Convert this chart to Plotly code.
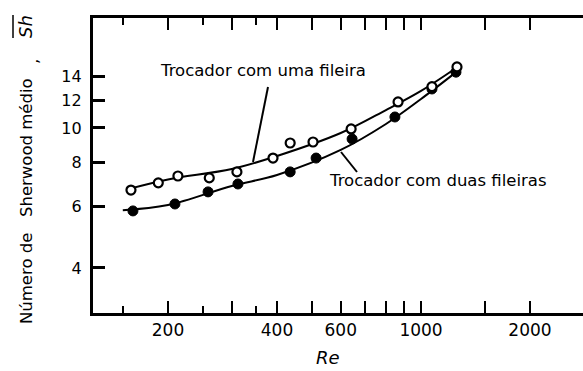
import plotly.graph_objects as go
import math

# Measured points: average Sherwood number vs Reynolds number
re_one_row = [158, 188, 213, 260, 310, 390, 435, 503, 641, 864, 1072, 1257]
sh_one_row = [6.66, 6.98, 7.30, 7.21, 7.50, 8.21, 9.06, 9.12, 9.93, 11.85, 13.1, 14.9]

re_two_rows = [160, 209, 258, 312, 435, 513, 645, 847, 1072, 1249]
sh_two_rows = [5.81, 6.08, 6.58, 6.93, 7.50, 8.21, 9.30, 10.74, 12.9, 14.4]

# Correlation curves through the data
re_curve_one = [155, 200, 300, 400, 600, 800, 1000, 1250]
sh_curve_one = [6.70, 7.14, 7.64, 8.32, 9.67, 11.24, 12.74, 14.8]

re_curve_two = [150, 200, 300, 400, 600, 800, 1000, 1250]
sh_curve_two = [5.84, 6.04, 6.84, 7.35, 8.66, 10.26, 12.08, 14.4]

# Axis ticks
x_major = [200, 300, 400, 500, 600, 700, 800, 900, 1000, 1500, 2000]
x_labels = ["200", "", "400", "", "600", "", "", "", "1000", "", "2000"]
x_minor = [150, 250, 350]
y_ticks = [4, 6, 8, 10, 12, 14]

FONT = "DejaVu Sans"

fig = go.Figure()

fig.add_trace(go.Scatter(
    x=re_curve_one, y=sh_curve_one, mode="lines", line_shape="spline",
    line=dict(color="black", width=2), hoverinfo="skip", showlegend=False))
fig.add_trace(go.Scatter(
    x=re_curve_two, y=sh_curve_two, mode="lines", line_shape="spline",
    line=dict(color="black", width=2), hoverinfo="skip", showlegend=False))

fig.add_trace(go.Scatter(
    x=re_two_rows, y=sh_two_rows, mode="markers",
    marker=dict(symbol="circle", size=10, color="black",
                line=dict(color="black", width=1)),
    showlegend=False))
fig.add_trace(go.Scatter(
    x=re_one_row, y=sh_one_row, mode="markers",
    marker=dict(symbol="circle", size=9, color="white",
                line=dict(color="black", width=2.2)),
    showlegend=False))

W, H = 583, 371
L, R, T, B = 93, 0, 18, 58
pw, ph = W - L - R, H - T - B


def px(x):
    return (x - L) / pw


def py(y):
    return (H - B - y) / ph


annotations = [
    dict(text="Trocador com uma fileira", x=px(158), y=py(70),
         xanchor="left", yanchor="middle", showarrow=False,
         font=dict(family=FONT, size=16.5, color="black")),
    dict(text="Trocador com duas fileiras", x=px(327), y=py(181),
         xanchor="left", yanchor="middle", showarrow=False,
         font=dict(family=FONT, size=16.5, color="black")),
    dict(text="Número de", x=px(26), y=py(279), textangle=-90,
         xanchor="center", yanchor="middle", showarrow=False,
         font=dict(family=FONT, size=16.5, color="black")),
    dict(text="Sherwood médio", x=px(26), y=py(148), textangle=-90,
         xanchor="center", yanchor="middle", showarrow=False,
         font=dict(family=FONT, size=16.5, color="black")),
    dict(text=",", x=px(33), y=py(62), textangle=-90,
         xanchor="center", yanchor="middle", showarrow=False,
         font=dict(family=FONT, size=16.5, color="black")),
    dict(text="<i>Sh</i>", x=px(26), y=py(27), textangle=-90,
         xanchor="center", yanchor="middle", showarrow=False,
         font=dict(family=FONT, size=18, color="black")),
    dict(text="<i>Re</i>", x=px(328), y=py(357),
         xanchor="center", yanchor="middle", showarrow=False,
         font=dict(family=FONT, size=18, color="black")),
]
for a in annotations:
    a["xref"] = "paper"
    a["yref"] = "paper"

shapes = [
    # leader lines from the labels to the curves
    dict(type="line", xref="paper", yref="paper",
         x0=px(268), y0=py(87), x1=px(253), y1=py(162),
         line=dict(color="black", width=2)),
    dict(type="line", xref="paper", yref="paper",
         x0=px(341), y0=py(152), x1=px(357), y1=py(172),
         line=dict(color="black", width=2)),
    # bar over Sh
    dict(type="line", xref="paper", yref="paper",
         x0=px(13), y0=py(15), x1=px(13), y1=py(38),
         line=dict(color="black", width=1.5)),
]

fig.update_layout(
    width=W, height=H,
    margin=dict(l=L, r=R, t=T, b=B),
    paper_bgcolor="white", plot_bgcolor="white",
    font=dict(family=FONT, color="black"),
    annotations=annotations,
    shapes=shapes,
    showlegend=False,
)

fig.update_xaxes(
    type="log", range=[math.log10(124.1), math.log10(2802)],
    showgrid=False, zeroline=False,
    showline=True, linecolor="black", linewidth=3, mirror="ticks",
    ticks="inside", ticklen=12, tickwidth=2, tickcolor="black",
    tickmode="array", tickvals=x_major, ticktext=x_labels,
    tickfont=dict(family=FONT, size=17, color="black"),
    minor=dict(tickmode="array", tickvals=x_minor, ticks="inside",
               ticklen=7, tickwidth=2, tickcolor="black", showgrid=False),
)

fig.update_yaxes(
    type="log", range=[math.log10(2.98), math.log10(20.52)],
    showgrid=False, zeroline=False,
    showline=True, linecolor="black", linewidth=3, mirror=False,
    ticks="inside", ticklen=12, tickwidth=2.5, tickcolor="black",
    tickmode="array", tickvals=y_ticks,
    ticktext=[f"{v}\u00a0" for v in y_ticks],
    tickfont=dict(family=FONT, size=16, color="black"),
)

fig.write_html("out.html")
